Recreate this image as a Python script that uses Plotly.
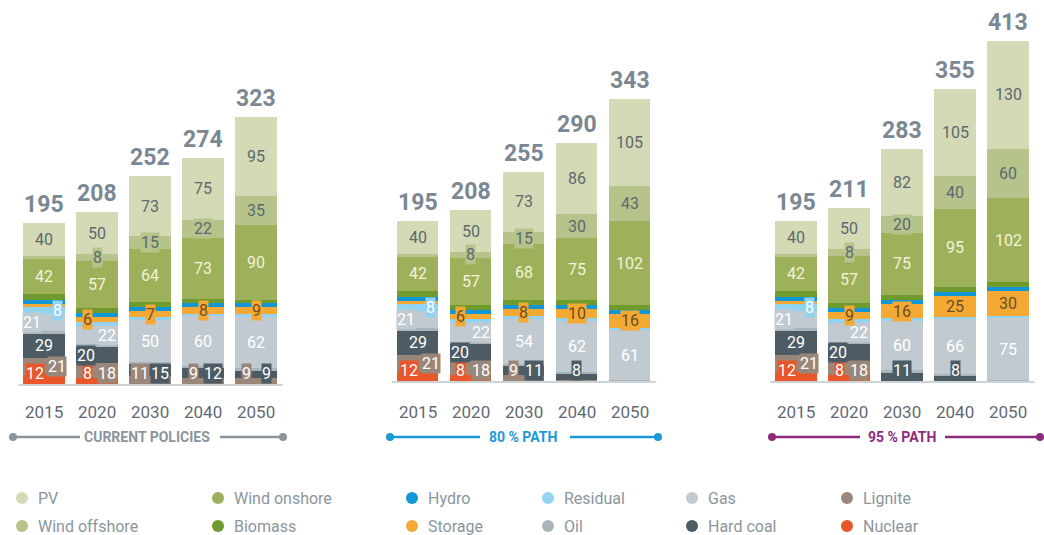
import plotly.graph_objects as go

# ---------------------------------------------------------------------------
# Installed capacity in GW by technology, for three scenarios.
# Each list holds 5 values per scenario, in the order
# Current Policies, 80 % path, 95 % path.
# ---------------------------------------------------------------------------
YEARS = ["2015", "2020", "2030", "2040", "2050"]
SCENARIOS = ["CURRENT POLICIES", "80 % PATH", "95 % PATH"]

nuclear = [12, 8, 0, 0, 0, 12, 8, 0, 0, 0, 12, 8, 0, 0, 0]
lignite = [21, 18, 11, 9, 9, 21, 18, 9, 2, 0, 21, 18, 0, 0, 0]
hard_coal = [29, 20, 15, 12, 9, 29, 20, 11, 8, 0, 29, 20, 11, 8, 0]
oil = [3, 3, 2, 2, 2, 3, 3, 2, 2, 2, 3, 3, 3, 2, 2]
gas = [21, 22, 50, 60, 62, 21, 22, 54, 62, 61, 21, 22, 60, 66, 75]
residual = [8, 5, 4, 3, 3, 8, 5, 4, 4, 3, 8, 5, 4, 3, 3]
storage = [4, 6, 7, 8, 9, 4, 6, 8, 10, 16, 4, 9, 16, 25, 30]
hydro = [5, 5, 5, 5, 5, 5, 5, 5, 5, 5, 5, 5, 6, 5, 5]
biomass = [7, 6, 6, 5, 4, 7, 6, 6, 6, 6, 7, 6, 6, 6, 6]
wind_onshore = [42, 57, 64, 73, 90, 42, 57, 68, 75, 102, 42, 57, 75, 95, 102]
wind_offshore = [3, 8, 15, 22, 35, 3, 8, 15, 30, 43, 3, 8, 20, 40, 60]
pv = [40, 50, 73, 75, 95, 40, 50, 73, 86, 105, 40, 50, 82, 105, 130]

totals = [195, 208, 252, 274, 323, 195, 208, 255, 290, 343, 195, 211, 283, 355, 413]

# stacking order, bottom to top: (name, values, fill colour, label colour)
SERIES = [
    ("Nuclear", nuclear, "#e8562a", "#ffffff"),
    ("Lignite", lignite, "#9b877a", "#ffffff"),
    ("Hard coal", hard_coal, "#4d5b64", "#ffffff"),
    ("Oil", oil, "#aab4bb", "#ffffff"),
    ("Gas", gas, "#c1cad1", "#ffffff"),
    ("Residual", residual, "#92d3f2", "#ffffff"),
    ("Storage", storage, "#f4a935", "#6b4f22"),
    ("Hydro", hydro, "#1197d5", "#ffffff"),
    ("Biomass", biomass, "#6e9a2e", "#ffffff"),
    ("Wind onshore", wind_onshore, "#9cb15a", "#f5f2d8"),
    ("Wind offshore", wind_offshore, "#b6c48c", "#5d6870"),
    ("PV", pv, "#d4dab5", "#5d6870"),
]
COLORS = {n: c for n, _, c, _ in SERIES}
LABEL_COLORS = {n: lc for n, _, _, lc in SERIES}

LEGEND_ROWS = [
    ["PV", "Wind onshore", "Hydro", "Residual", "Gas", "Lignite"],
    ["Wind offshore", "Biomass", "Storage", "Oil", "Hard coal", "Nuclear"],
]

# ---------------------------------------------------------------------------
# Layout constants (pixel based canvas)
# ---------------------------------------------------------------------------
W, H = 1044, 535
GROUP_X0 = [44, 417.5, 796]
BAR_STEP = 53
BAR_W = 41.5
BASE_PX = [385, 382, 382]
SCALE = [0.83, 0.825, 0.825]
SCEN_COLORS = ["#8a959e", "#1a9ad6", "#8e2b7e"]
GROUP_LINES = [(13, 80, 220, 283), (390, 480, 570, 658), (772, 860, 945, 1040)]
GROUP_TEXT_X = [147, 522.5, 902]
LEGEND_X = [22, 218, 412, 548, 692, 847]
LEGEND_Y = [498, 526]

NARROW = "Liberation Sans Narrow, Roboto, sans-serif"
REG = "Roboto, sans-serif"

LABELLED = {"PV", "Wind offshore", "Wind onshore", "Storage", "Gas",
            "Hard coal", "Lignite", "Nuclear", "Residual"}

# off-centre label placement: (dx in px, 'c' = segment centre / 'b' = bottom row)
PLACE = {
    (0, "Residual"): (13, "c"),
    (0, "Gas"): (-12, "c"),
    (0, "Lignite"): (13, "c"),
    (0, "Nuclear"): (-9, "b"),
    (1, "Gas"): (10, "c"),
    (1, "Hard coal"): (-11, "c"),
    (1, "Nuclear"): (-10, "b"),
    (1, "Lignite"): (10, "b"),
}


def yaxis_ref(s):
    return "y" if s == 0 else "y2"


def label_place(s, j, name, vals_at):
    """Return (dx, mode) for a segment label or None when unlabelled."""
    v = vals_at[name]
    if name not in LABELLED or v < 5:
        return None
    if name == "Residual" and j != 0:
        return None
    if (j, name) in PLACE:
        return PLACE[(j, name)]
    if j == 1 and name == "Storage" and s < 2:
        return (-10, "c")
    if j >= 2 and name in ("Lignite", "Hard coal"):
        both = vals_at["Lignite"] >= 5 and vals_at["Hard coal"] >= 5
        if name == "Lignite":
            return (-10, "b")
        return (10, "b") if both else (0, "b")
    return (0, "c")


fig = go.Figure()
annotations = []
shapes = []

for s in range(3):
    ya = yaxis_ref(s)
    xs = [GROUP_X0[s] + j * BAR_STEP for j in range(5)]
    for name, vals, color, _ in SERIES:
        fig.add_trace(go.Bar(
            x=xs, y=vals[s * 5:(s + 1) * 5], width=BAR_W, name=name,
            marker=dict(color=color, line=dict(width=0)),
            xaxis="x", yaxis=ya, showlegend=False,
            customdata=YEARS,
            hovertemplate=f"{SCENARIOS[s]} %{{customdata}}<br>{name}: %{{y}} GW<extra></extra>",
        ))

    for j in range(5):
        k = s * 5 + j
        vals_at = {n: v[k] for n, v, _, _ in SERIES}
        base = 0
        for name, vals, color, _ in SERIES:
            v = vals[k]
            place = label_place(s, j, name, vals_at)
            if place is not None:
                dx, mode = place
                ann = dict(
                    x=xs[j] + dx, xref="x", yref=ya, text=str(v), showarrow=False,
                    font=dict(family=REG, size=16, color=LABEL_COLORS[name]),
                    bgcolor=color, borderpad=0,
                )
                if mode == "b":
                    ann.update(y=0, yanchor="bottom", yshift=1)
                else:
                    ann.update(y=base + v / 2, yanchor="middle")
                annotations.append(ann)
            base += v
        # stacked total above each bar
        annotations.append(dict(
            x=xs[j], xref="x", y=sum(v[k] for _, v, _, _ in SERIES), yref=ya,
            yanchor="bottom", yshift=3, showarrow=False,
            text=f"<b>{totals[k]}</b>",
            font=dict(family=NARROW, size=23, color="#7b8792"),
        ))
        # year label
        annotations.append(dict(
            x=xs[j], xref="x", y=411.5, yref="y3", showarrow=False,
            text=YEARS[j], font=dict(family=REG, size=17, color="#5f6a72"),
        ))

    # baseline
    shapes.append(dict(
        type="line", xref="x", yref=ya,
        x0=xs[0] - BAR_W / 2 - 5, x1=xs[-1] + BAR_W / 2 + 6, y0=0, y1=0,
        line=dict(color="#cdd4d9", width=2),
    ))
    # scenario caption with rule and end dots
    a0, a1, b0, b1 = GROUP_LINES[s]
    for x0, x1 in ((a0, a1), (b0, b1)):
        shapes.append(dict(type="line", xref="x", yref="y3", x0=x0, x1=x1,
                           y0=437, y1=437,
                           line=dict(color=SCEN_COLORS[s], width=2.5)))
    fig.add_trace(go.Scatter(
        x=[a0, b1], y=[437, 437], xaxis="x", yaxis="y3", mode="markers",
        marker=dict(size=8, color=SCEN_COLORS[s]), showlegend=False,
        hoverinfo="skip",
    ))
    annotations.append(dict(
        x=GROUP_TEXT_X[s], xref="x", y=437, yref="y3", showarrow=False,
        text=f"<b>{SCENARIOS[s]}</b>",
        font=dict(family=NARROW, size=14, color=SCEN_COLORS[s]),
    ))

# legend
for r, row in enumerate(LEGEND_ROWS):
    for c, name in enumerate(row):
        fig.add_trace(go.Scatter(
            x=[LEGEND_X[c]], y=[LEGEND_Y[r]], xaxis="x", yaxis="y3",
            mode="markers", marker=dict(size=12, color=COLORS[name]),
            showlegend=False, hoverinfo="skip",
        ))
        annotations.append(dict(
            x=LEGEND_X[c] + 14, xref="x", y=LEGEND_Y[r], yref="y3",
            xanchor="left", showarrow=False, text=name,
            font=dict(family=REG, size=16, color="#8b959d"),
        ))


def yrange(s):
    return [-(H - BASE_PX[s]) / SCALE[s], BASE_PX[s] / SCALE[s]]


hidden = dict(visible=False, showgrid=False, zeroline=False, fixedrange=True)
fig.update_layout(
    width=W, height=H, margin=dict(l=0, r=0, t=0, b=0),
    paper_bgcolor="white", plot_bgcolor="white",
    barmode="stack", bargap=0,
    xaxis=dict(range=[0, W], domain=[0, 1], **hidden),
    yaxis=dict(range=yrange(0), domain=[0, 1], **hidden),
    yaxis2=dict(range=yrange(1), overlaying="y", **hidden),
    yaxis3=dict(range=[H, 0], overlaying="y", **hidden),
    annotations=annotations, shapes=shapes,
    font=dict(family=REG),
)

fig.write_html("out.html")
